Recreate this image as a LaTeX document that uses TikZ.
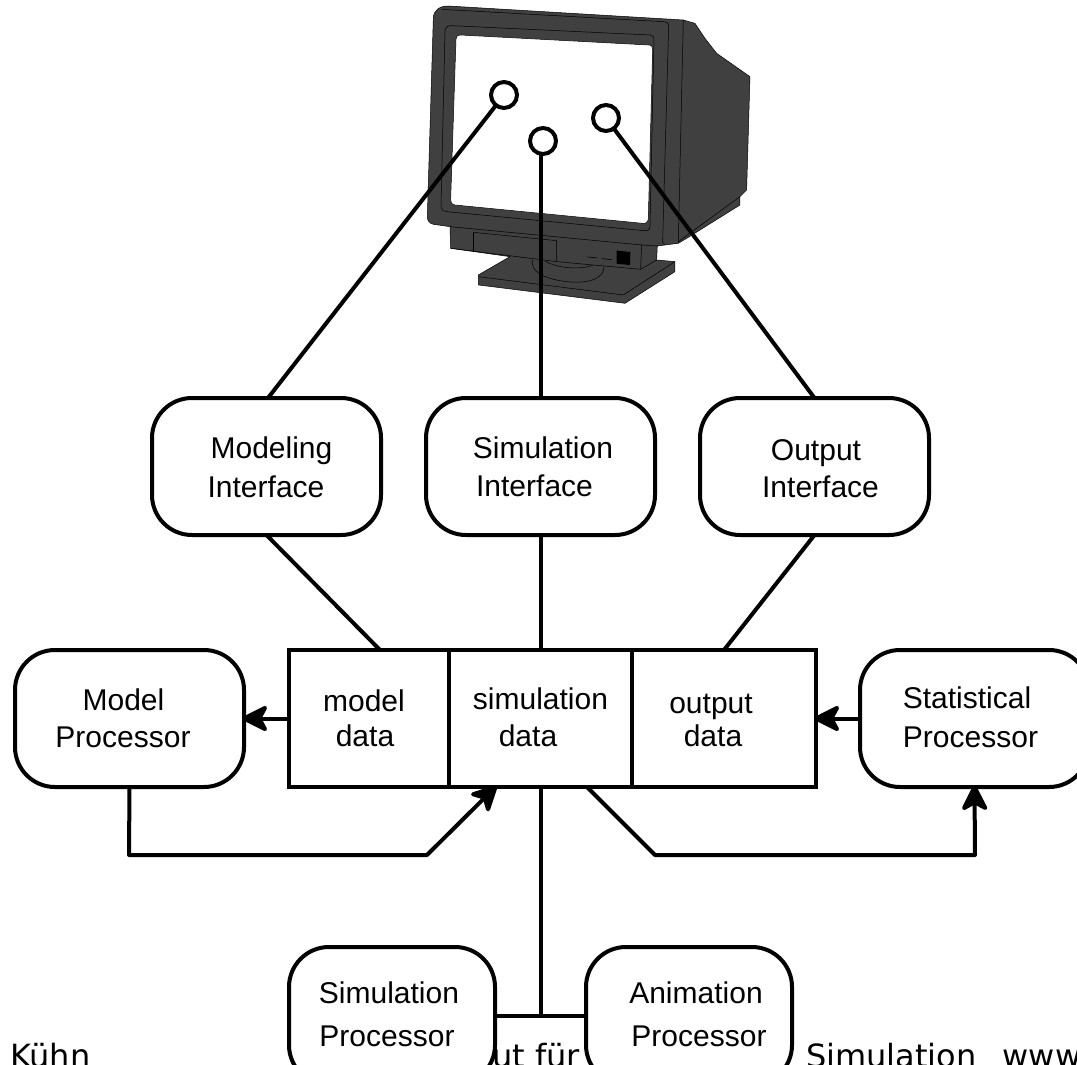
\documentclass[tikz,border=0pt]{standalone}
\usepackage{fontspec}
\setmainfont{Liberation Sans}
\newfontfamily\footfont{DejaVu Sans}
\usetikzlibrary{arrows.meta}
\tikzset{
  rbox/.style={draw=black,line width=4pt,fill=white,rounded corners=40pt,minimum height=137pt,inner sep=0pt,outer sep=0pt},
  wbox/.style={rbox,minimum width=229pt},
  pbox/.style={rbox,minimum width=206pt,minimum height=138pt},
  dbox/.style={draw=black,line width=4pt,fill=white,minimum height=137pt,inner sep=0pt,outer sep=0pt},
  lab/.style={font=\fontsize{30pt}{32pt}\selectfont,anchor=base,inner sep=0pt,text=black},
  foot/.style={font=\footfont\fontsize{32pt}{34pt}\selectfont,anchor=base west,inner sep=0pt,text=black},
  conn/.style={draw=black,line width=4pt,line join=round},
  arr/.style={conn,shorten >=-2pt,-{Stealth[length=30pt,width=30pt,inset=8pt,round]}},
  ring/.style={circle,draw=black,line width=4pt,fill=white,minimum size=26pt,inner sep=0pt,outer sep=0pt},
  mon/.style={draw=black,line width=0.5pt,line join=round},
}
\begin{document}
\begin{tikzpicture}[x=1pt,y=-1pt]
\useasboundingbox (0,0) rectangle (1077,1065);
\clip (0,0) rectangle (1077,1065);
\fill[white] (0,0) rectangle (1077,1065);
% footer text behind the boxes
\node[foot] (f1) at (10,1067.5) {Kühn};
\node[foot] (f2) at (492,1067.5) {ut für};
\node[foot] (f3) at (806,1067.5) {Simulation\hspace{26pt}www};
% monitor
\begin{scope}[shift={(400,0)},x=0.3333pt,y=-0.3333pt]
  \path[mon,fill=black!75]
    (100,55) .. controls (100,30) and (120,18) .. (145,18)
    -- (850,60) -- (885,70) -- (915,115) -- (950,160) -- (1050,230) -- (1040,570) -- (1020,590) -- (1020,615)
    -- (860,715) -- (835,730) -- (772,738) -- (770,780) -- (825,785) -- (825,815) -- (675,910)
    -- (235,855) -- (235,825) -- (330,770) -- (152,745) -- (150,680) -- (100,673)
    .. controls (88,670) and (82,662) .. (82,650) -- cycle;
  \path[mon,fill=white]
    (168,118) .. controls (168,110) and (172,105) .. (180,105)
    -- (745,135) .. controls (755,135) and (758,140) .. (758,148)
    -- (745,655) .. controls (745,665) and (738,672) .. (728,670)
    -- (165,615) .. controls (155,613) and (152,608) .. (152,600) -- cycle;
  \draw[mon] (135,95) .. controls (135,82) and (142,77) .. (155,77) -- (750,105) .. controls (758,105) and (762,110) .. (762,118)
    -- (750,680) .. controls (750,690) and (742,693) .. (732,692) -- (140,635) .. controls (128,633) and (123,628) .. (123,618) -- cycle;
  \draw[mon] (125,28) -- (790,65) .. controls (800,65) and (806,70) .. (806,80) -- (788,725) .. controls (788,730) and (790,733) .. (795,733);
  \draw[mon] (850,60) -- (835,728);
  \draw[mon] (150,680) -- (725,735) -- (722,805);
  \draw[mon] (725,735) -- (772,738);
  \draw[mon] (152,745) -- (470,785);
  \draw[mon] (220,697) -- (470,722) -- (470,785);
  \draw[mon] (220,697) -- (220,755);
  \draw[mon] (470,785) -- (722,808) -- (770,780);
  \draw[mon] (835,725) -- (1020,590);
  \fill[black] (650,752) -- (691,756) -- (690,795) -- (650,791) -- cycle;
  \draw[black,line width=0.6pt] (562,771) -- (592,774) (605,776) -- (635,779);
  \draw[mon] (397,780) .. controls (392,810) and (420,835) .. (500,845) .. controls (570,852) and (612,835) .. (612,800);
  \draw[mon] (435,783) .. controls (470,805) and (540,810) .. (578,796);
  \draw[mon] (235,830) -- (670,885) -- (825,785);
\end{scope}
% connectors to the screen and data block are drawn before the boxes
\node[ring] (r1) at (504,95) {};
\node[ring] (r2) at (543,141) {};
\node[ring] (r3) at (606,118) {};
% boxes
\node[wbox] (mi) at (266.5,466.5) {};
\node[wbox] (si) at (540.5,466.5) {};
\node[wbox] (oi) at (814.5,466.5) {};
\node[wbox] (mp) at (129.5,718.5) {};
\node[wbox] (sp) at (974.5,718.5) {};
\node[pbox] (smp) at (392,1016) {};
\node[pbox] (anp) at (689,1016) {};
\node[dbox,minimum width=160pt] (dm) at (369,718.5) {};
\node[dbox,minimum width=183pt] (ds) at (540.5,718.5) {};
\node[dbox,minimum width=184pt] (dc) at (724,718.5) {};
% connectors
\draw[conn] ([xshift=1.5pt]mi.north) -- (r1);
\draw[conn] (si.north) -- (si.north |- r2.south);
\draw[conn] (oi.north) -- (r3);
\draw[conn] (mi.south) -- ([xshift=11pt]dm.north);
\draw[conn] (si.south) -- (ds.north);
\draw[conn] (oi.south) -- (dc.north);
\draw[arr] (dm.west) -- (mp.east);
\draw[arr] (sp.west) -- (dc.east);
\coordinate (b1) at (129,855);
\coordinate (b2) at (427,855);
\coordinate (b3) at (655,855);
\coordinate (b4) at (975,855);
\draw[arr] (mp.south) -- (b1) -- (b2) -- ([xshift=-45pt]ds.south);
\draw[arr] ([xshift=46.5pt]ds.south) -- (b3) -- (b4) -- (sp.south);
\coordinate (j) at (si.north |- smp.east);
\draw[conn] (ds.south) -- (j);
\draw[conn] (smp.east) -- (anp.west);
% labels
\node[lab] (t1) at (271.5,458) {Modeling};
\node[lab] (t2) at (266,497) {Interface};
\node[lab] (t3) at (543,458) {Simulation};
\node[lab] (t4) at (534.5,496) {Interface};
\node[lab] (t5) at (816,460) {Output};
\node[lab] (t6) at (820.5,497) {Interface};
\node[lab] (t7) at (123.5,710) {Model};
\node[lab] (t8) at (123,747) {Processor};
\node[lab] (t9) at (967,708) {Statistical};
\node[lab] (t10) at (970.5,747) {Processor};
\node[lab] (t11) at (364,711) {model};
\node[lab] (t12) at (365,746) {data};
\node[lab] (t13) at (540.5,709) {simulation};
\node[lab] (t14) at (528,746) {data};
\node[lab] (t15) at (711,713) {output};
\node[lab] (t16) at (713,746) {data};
\node[lab] (t17) at (389,1003) {Simulation};
\node[lab] (t18) at (387,1046) {Processor};
\node[lab] (t19) at (696,1003) {Animation};
\node[lab] (t20) at (699,1046) {Processor};
\end{tikzpicture}
\end{document}
